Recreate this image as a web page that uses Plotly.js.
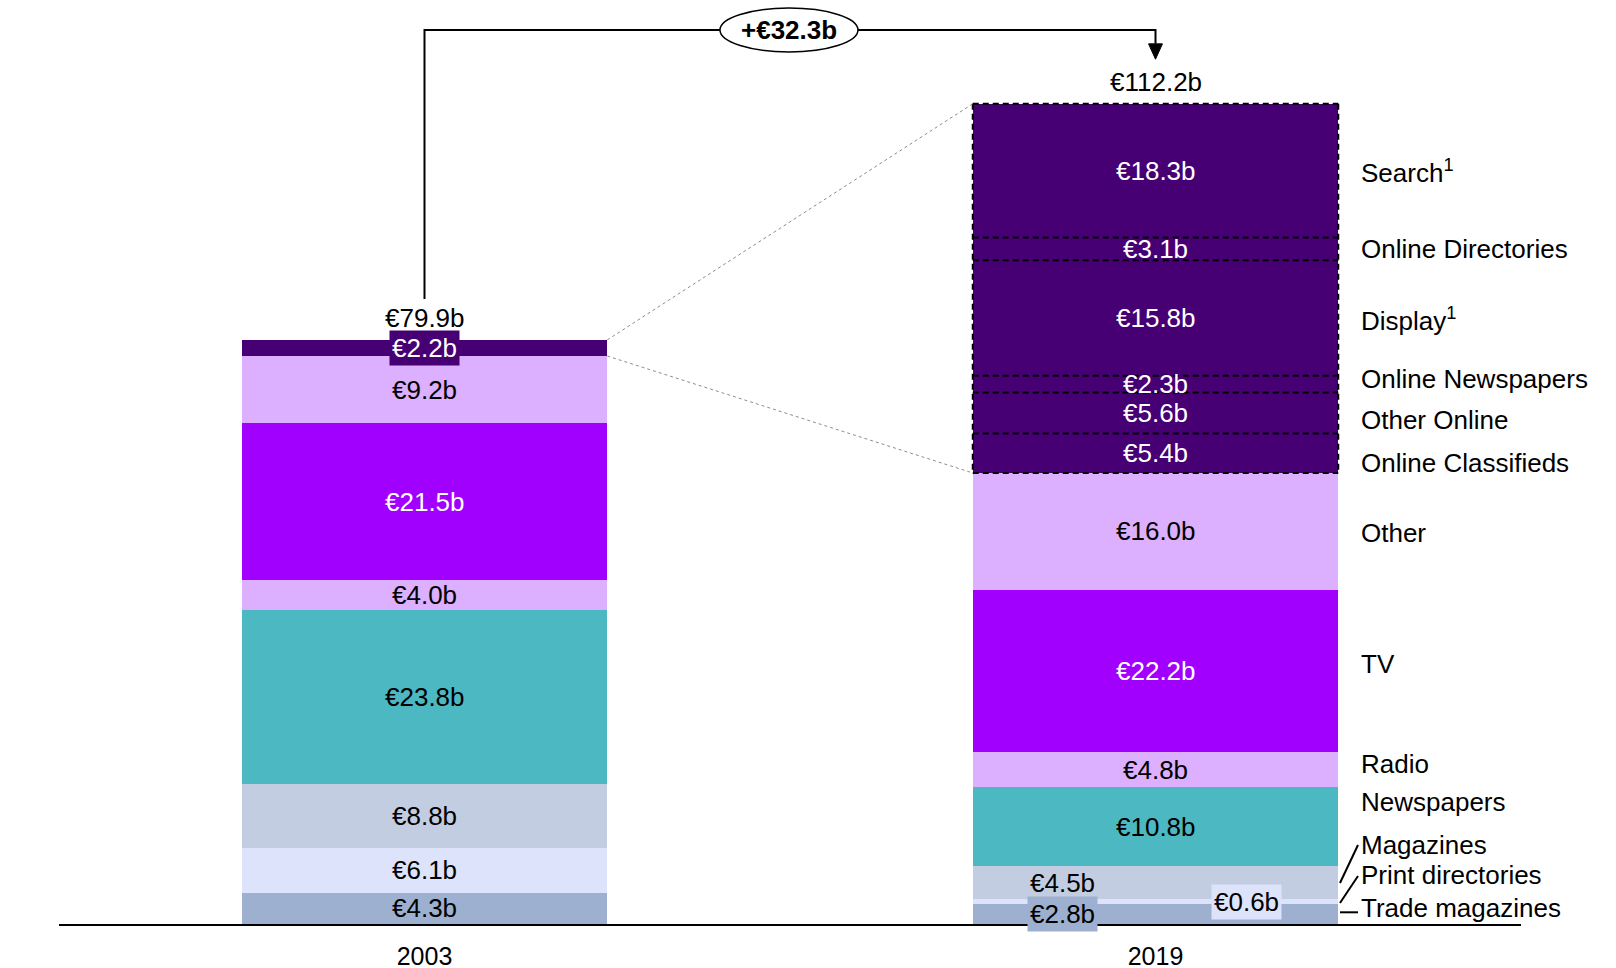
<!DOCTYPE html>
<html>
<head>
<meta charset="utf-8">
<script src="https://cdn.plot.ly/plotly-3.0.1.min.js"></script>
<style>html,body{margin:0;padding:0;background:#fff;}#chart{width:1616px;height:968px;}</style>
</head>
<body>
<div id="chart"></div>
<script>
// ---- data ----
const years = ['2003', '2019'];
const tradeMagazines    = [4.3, 2.8];
const printDirectories  = [6.1, 0.6];
const magazines         = [8.8, 4.5];
const newspapers        = [23.8, 10.8];
const radio             = [4.0, 4.8];
const tv                = [21.5, 22.2];
const other             = [9.2, 16.0];
const internet          = [2.2, null];
const onlineClassifieds = [null, 5.4];
const otherOnline       = [null, 5.6];
const onlineNewspapers  = [null, 2.3];
const display           = [null, 15.8];
const onlineDirectories = [null, 3.1];
const search            = [null, 18.3];
const totals = [79.9, 112.2];
const growthLabel = '+€32.3b';

// ---- series table (bottom to top) ----
const DARK = '#460073', LAV = '#DCAFFF';
const series = [
  {name: 'Trade magazines',        v: tradeMagazines,    c: '#9DB0CF', t: '#000'},
  {name: 'Print directories',      v: printDirectories,  c: '#DDE3FB', t: '#000'},
  {name: 'Magazines',              v: magazines,         c: '#C3CDE1', t: '#000'},
  {name: 'Newspapers',             v: newspapers,        c: '#4CB8C2', t: '#000'},
  {name: 'Radio',                  v: radio,             c: LAV,       t: '#000'},
  {name: 'TV',                     v: tv,                c: '#A100FF', t: '#fff'},
  {name: 'Other',                  v: other,             c: LAV,       t: '#000'},
  {name: 'Internet',               v: internet,          c: DARK,      t: '#fff', online: false},
  {name: 'Online Classifieds',     v: onlineClassifieds, c: DARK,      t: '#fff', online: true},
  {name: 'Other Online',           v: otherOnline,       c: DARK,      t: '#fff', online: true},
  {name: 'Online Newspapers',      v: onlineNewspapers,  c: DARK,      t: '#fff', online: true},
  {name: 'Display<sup>1</sup>',    v: display,           c: DARK,      t: '#fff', online: true},
  {name: 'Online Directories',     v: onlineDirectories, c: DARK,      t: '#fff', online: true},
  {name: 'Search<sup>1</sup>',     v: search,            c: DARK,      t: '#fff', online: true}
];

// label placement (layout, in axis units)
const leftLabelY  = [2.75, 8.4, 14.6, 30.8, 44.9, 57.6, 72.8, 78.75];
const rightLabelY = [2.2, 6.7, 10.8, 16.7, 21.9, 35.5, 53.5, 63.1, 69.0, 74.6, 82.7, 92.3, 103.0];

const FONT = 'Liberation Sans, Arial, sans-serif';
const FS = 26;
const xs = [0, 1];
const BW = 0.5;

const traces = series.map(s => ({
  type: 'bar', x: xs, y: s.v, width: BW, name: s.name,
  marker: {color: s.c, line: {width: 0}}, hoverinfo: 'skip'
}));

// cumulative bases
const base = [0, 0];
const segs = [];
series.forEach(s => {
  s.v.forEach((val, i) => {
    if (val == null) return;
    segs.push({s, i, y0: base[i], y1: base[i] + val, val});
    base[i] += val;
  });
});

const fmt = v => '€' + v.toFixed(1) + 'b';
const annotations = [];
const shapes = [];

// value labels inside segments
segs.forEach(g => {
  const a = {
    x: g.i, y: (g.y0 + g.y1) / 2, xref: 'x', yref: 'y', text: fmt(g.val), showarrow: false,
    font: {family: FONT, size: FS, color: g.s.t}, xanchor: 'center', yanchor: 'middle'
  };
  if (g.i === 0 && g.s.name === 'Internet') { a.bgcolor = g.s.c; a.borderpad = 2; }
  if (g.i === 1 && g.s.name === 'Magazines') { a.x = 0.873; }
  if (g.i === 1 && g.s.name === 'Trade magazines') { a.x = 0.873; a.bgcolor = g.s.c; a.borderpad = 2; }
  if (g.i === 1 && g.s.name === 'Print directories') { a.x = 1.124; a.y = g.y0 + 0.25; a.bgcolor = g.s.c; a.borderpad = 2; }
  annotations.push(a);
});

// totals
totals.forEach((t, i) => annotations.push({
  x: i, y: t + 3.0, xref: 'x', yref: 'y', text: fmt(t), showarrow: false,
  font: {family: FONT, size: FS, color: '#000'}, xanchor: 'center', yanchor: 'middle'
}));

// category labels beside the bars
let li = 0, ri = 0;
series.forEach(s => {
  if (s.v[0] != null) {
    annotations.push({x: -0.56, y: leftLabelY[li++], xref: 'x', yref: 'y', text: s.name, showarrow: false,
      font: {family: FONT, size: FS, color: '#000'}, xanchor: 'left', yanchor: 'middle'});
  }
  if (s.v[1] != null) {
    annotations.push({x: 1.278, y: rightLabelY[ri++], xref: 'x', yref: 'y', text: s.name, showarrow: false,
      font: {family: FONT, size: FS, color: '#000'}, xanchor: 'left', yanchor: 'middle'});
  }
});

// dashed outlines around online segments of 2019 (each edge drawn once, same direction)
const online19 = segs.filter(g => g.i === 1 && g.s.online);
const on0 = Math.min(...online19.map(g => g.y0)), on1 = Math.max(...online19.map(g => g.y1));
const dashLine = {color: '#000', width: 2, dash: '6px,4px'};
const edges = [on0, ...online19.map(g => g.y1)];
edges.forEach(yv => shapes.push({type: 'line', xref: 'x', yref: 'y', x0: 1 - BW / 2, x1: 1 + BW / 2, y0: yv, y1: yv, line: dashLine}));
[1 - BW / 2, 1 + BW / 2].forEach(xv => shapes.push({type: 'line', xref: 'x', yref: 'y', x0: xv, x1: xv, y0: on1, y1: on0, line: dashLine}));

// dotted connectors from 2003 Internet to 2019 online block
const inet03 = segs.find(g => g.i === 0 && g.s.name === 'Internet');
shapes.push({type: 'line', xref: 'x', yref: 'y', x0: BW / 2, y0: inet03.y1, x1: 1 - BW / 2, y1: on1,
  line: {color: '#8c8c8c', width: 1, dash: 'dot'}});
shapes.push({type: 'line', xref: 'x', yref: 'y', x0: BW / 2, y0: inet03.y0, x1: 1 - BW / 2, y1: on0,
  line: {color: '#8c8c8c', width: 1, dash: 'dot'}});

// leader lines for the small 2019 segments
const leaders = [[5.61, 10.8], [2.87, 6.57], [1.6, 1.6]];
leaders.forEach(l => shapes.push({type: 'line', xref: 'x', yref: 'y', x0: 1.2524, y0: l[0], x1: 1.277, y1: l[1],
  line: {color: '#000', width: 2}}));

// growth bracket
const topY = 122.3;
shapes.push({type: 'path', xref: 'x', yref: 'y',
  path: `M 0,${totals[0] + 5.6} L 0,${topY} L 1,${topY} L 1,120.4`,
  line: {color: '#000', width: 2}});
shapes.push({type: 'path', xref: 'x', yref: 'y',
  path: `M 0.9905,120.4 L 1.0095,120.4 L 1,118.3 Z`,
  line: {color: '#000', width: 1}, fillcolor: '#000'});
shapes.push({type: 'circle', xref: 'x', yref: 'y', x0: 0.4042, x1: 0.593, y0: 119.3, y1: 125.3,
  line: {color: '#000', width: 1.5}, fillcolor: '#fff'});
annotations.push({x: 0.4986, y: topY, xref: 'x', yref: 'y', text: '<b>' + growthLabel + '</b>', showarrow: false,
  font: {family: FONT, size: FS, color: '#000'}, xanchor: 'center', yanchor: 'middle'});

const layout = {
  width: 1616, height: 968,
  margin: {l: 59, r: 95, t: 0, b: 44},
  paper_bgcolor: '#fff', plot_bgcolor: '#fff',
  barmode: 'stack', showlegend: false, hovermode: false,
  font: {family: FONT, size: FS, color: '#000'},
  xaxis: {range: [-0.5, 1.5], tickvals: xs, ticktext: years, showgrid: false, zeroline: false,
    showline: true, linecolor: '#000', linewidth: 1.5, ticks: '', ticklabelstandoff: 9,
    tickfont: {family: FONT, size: 25, color: '#000'}, fixedrange: true},
  yaxis: {range: [0, 126.4], visible: false, fixedrange: true},
  shapes, annotations
};

Plotly.newPlot('chart', traces, layout, {displayModeBar: false, staticPlot: true});
</script>
</body>
</html>
